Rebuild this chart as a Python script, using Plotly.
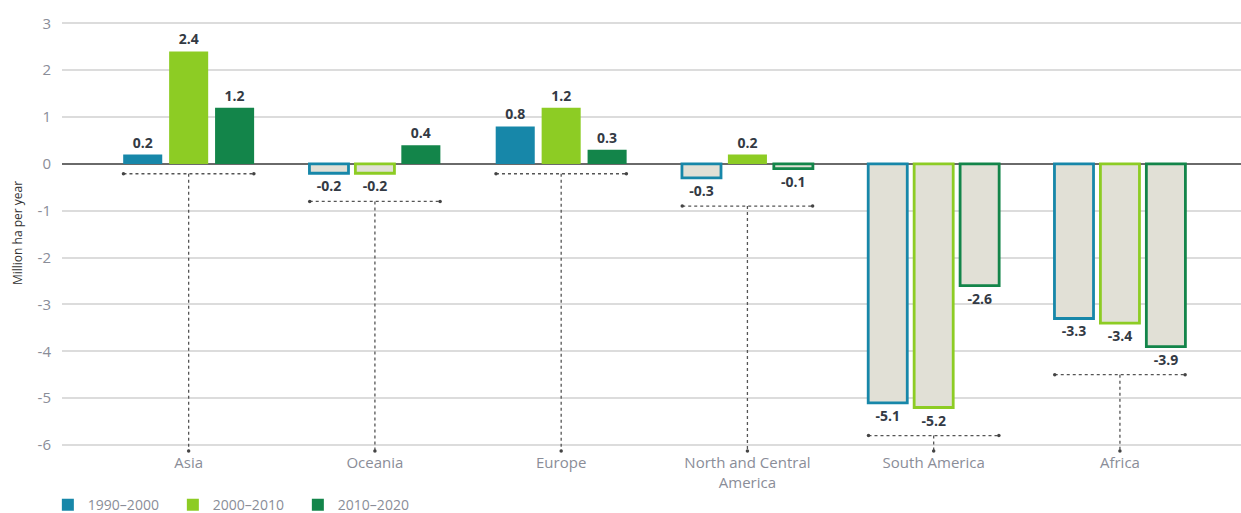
import plotly.graph_objects as go

categories = ["Asia", "Oceania", "Europe", "North and Central<br>America", "South America", "Africa"]
series_names = ["1990–2000", "2000–2010", "2010–2020"]
v_1990_2000 = [0.2, -0.2, 0.8, -0.3, -5.1, -3.3]
v_2000_2010 = [2.4, -0.2, 1.2, 0.2, -5.2, -3.4]
v_2010_2020 = [1.2, 0.4, 0.3, -0.1, -2.6, -3.9]
y_ticks = [-6, -5, -4, -3, -2, -1, 0, 1, 2, 3]

series_values = [v_1990_2000, v_2000_2010, v_2010_2020]
series_colors = ["#1787a9", "#8dcc24", "#13854a"]
neg_fill = "#e1e0d6"
label_color = "#333a44"
FONT = "Open Sans"

xs = list(range(len(categories)))
fig = go.Figure()

for name, vals, col in zip(series_names, series_values, series_colors):
    fills = [col if v >= 0 else neg_fill for v in vals]
    lw = [0 if v >= 0 else 2.8 for v in vals]
    fig.add_trace(go.Bar(
        x=xs, y=vals, name=name,
        marker=dict(color=fills, line=dict(color=col, width=lw)),
        text=[f"{v:.1f}" for v in vals],
        textposition="outside",
        textfont=dict(family=FONT, size=14, color=label_color, weight="bold"),
        cliponaxis=False,
    ))

# dotted brackets below each group and leader to the category label
for i in xs:
    group_min = min(s[i] for s in series_values)
    yb = group_min - 0.6 if group_min < 0 else -0.21
    fig.add_trace(go.Scatter(
        x=[i - 0.35, i + 0.35], y=[yb, yb], mode="lines+markers",
        line=dict(color="#555", width=1.3, dash="dot"),
        marker=dict(size=3.5, color="#444"),
        showlegend=False, hoverinfo="skip", cliponaxis=False,
    ))
    fig.add_trace(go.Scatter(
        x=[i, i], y=[yb, -6.13], mode="lines",
        line=dict(color="#555", width=1.3, dash="dot"),
        showlegend=False, hoverinfo="skip", cliponaxis=False,
    ))
    fig.add_trace(go.Scatter(
        x=[i], y=[-6.13], mode="markers",
        marker=dict(size=3.5, color="#444"),
        showlegend=False, hoverinfo="skip", cliponaxis=False,
    ))

fig.update_layout(
    width=1241, height=513,
    margin=dict(l=62, r=0, t=14, b=61, autoexpand=False),
    plot_bgcolor="white", paper_bgcolor="white",
    barmode="group", bargap=0.26, bargroupgap=0.15,
    font=dict(family=FONT),
    xaxis=dict(
        range=[-0.68, 5.65], tickvals=xs, ticktext=categories,
        showgrid=False, zeroline=False, showline=False, ticks="",
        tickfont=dict(family=FONT, size=15, color="#8a8d98"),
        automargin=False,
    ),
    yaxis=dict(
        range=[-6.15, 3.2], tickvals=y_ticks, ticktext=[str(t) for t in y_ticks],
        showgrid=True, gridcolor="#dcdcdc", gridwidth=1.5,
        zeroline=True, zerolinecolor="#6a6a6a", zerolinewidth=1.5,
        tickfont=dict(family=FONT, size=15, color="#8a8d98"),
        ticklabelstandoff=10,
        automargin=False,
        title=dict(text="Million ha per year", font=dict(family=FONT, size=12, color="#333"), standoff=12),
    ),
    legend=dict(
        orientation="h", x=-0.012, xanchor="left", y=-0.085, yanchor="top",
        font=dict(family=FONT, size=14, color="#8a8d98"),
        itemwidth=30, traceorder="normal",
        entrywidth=80, entrywidthmode="pixels",
    ),
)

fig.write_html(
    "out.html",
    config={"displayModeBar": False},
    post_script="document.body.style.margin='0';document.body.style.overflow='hidden';",
)
